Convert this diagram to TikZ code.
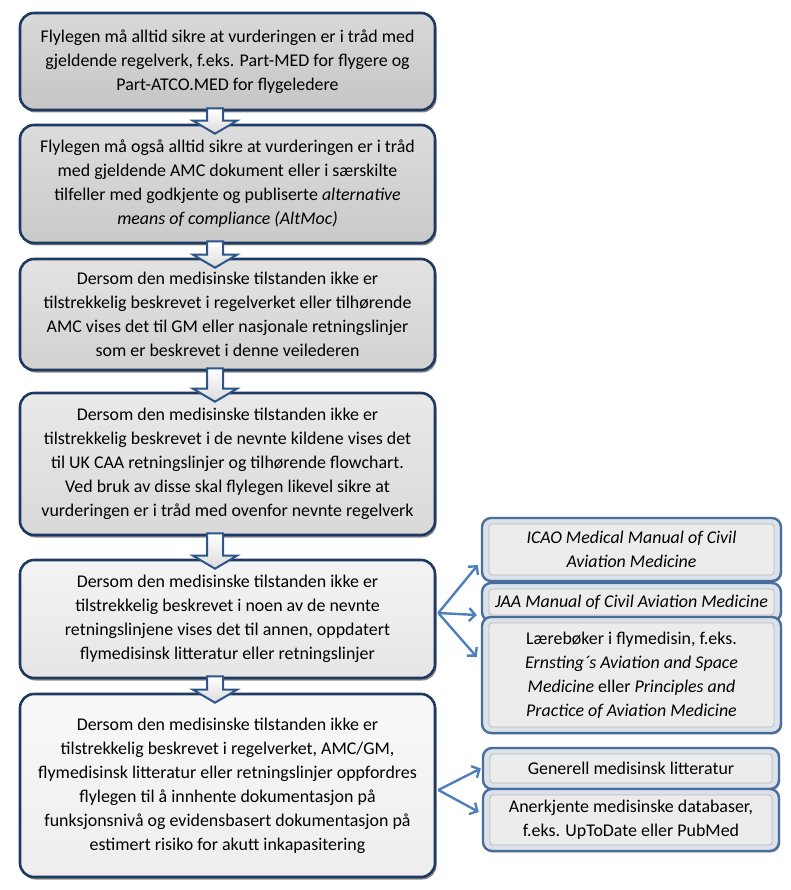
\documentclass[tikz,border=0pt]{standalone}
\usepackage{fontspec}
\setmainfont{Carlito}
\usetikzlibrary{shadows,arrows.meta,calc}
\definecolor{navy}{HTML}{1F3A60}
\definecolor{steel}{HTML}{4A6E9C}
\definecolor{conn}{HTML}{4F7FBA}
\definecolor{sidefill}{HTML}{DCE2EA}
\definecolor{innerfill}{HTML}{ECECEC}
\definecolor{arrowline}{HTML}{2E5588}
\tikzset{
  mainbox/.style={rounded corners=14pt, draw=navy, line width=2.6pt,
    minimum width=415pt, inner sep=0pt, align=center,
    font=\fontsize{17.9}{24}\selectfont,
    drop shadow={shadow xshift=1.5pt, shadow yshift=-2.5pt, opacity=0.45, fill=black}},
  sidebox/.style={rounded corners=9pt, draw=steel, line width=2.4pt,
    minimum width=299pt, inner sep=0pt, align=center, fill=sidefill,
    font=\fontsize{17.9}{24}\selectfont,
    drop shadow={shadow xshift=1pt, shadow yshift=-1.5pt, opacity=0.3, fill=black},
    path picture={\draw[draw=gray!55, line width=0.8pt, fill=innerfill, rounded corners=3pt]
      ([shift={(7pt,-6pt)}]path picture bounding box.north west) rectangle
      ([shift={(-7pt,6pt)}]path picture bounding box.south east);}},
  blockarrow/.style={draw=arrowline, line width=2pt, line join=miter,
    top color=white, bottom color=gray!28},
  connector/.style={draw=conn, line width=2.4pt, -{Straight Barb[length=6pt,width=13pt,line width=2.4pt]}}
}
\newcommand\downarrowbox[2]{%
  \draw[blockarrow]
    ([xshift=-20.5pt,yshift=3pt]#1.south) --
    ([xshift=-4.5pt,yshift=3pt]#1.south) --
    ([xshift=-4.5pt,yshift=3pt]#2.north) --
    ([xshift=9.5pt,yshift=3pt]#2.north) --
    ([xshift=-12.5pt,yshift=-10pt]#2.north) --
    ([xshift=-34.5pt,yshift=3pt]#2.north) --
    ([xshift=-20.5pt,yshift=3pt]#2.north) -- cycle;}
\begin{document}
\begin{tikzpicture}[x=1pt,y=-1pt]
\useasboundingbox (0,0) rectangle (790,890);

\node[mainbox, minimum height=97pt, top color=gray!30, bottom color=gray!45] (b1) at (227.5,61.5)
  {Flylegen må alltid sikre at vurderingen er i tråd med\\
   gjeldende regelverk, f.eks. Part-MED for flygere og\\
   Part-ATCO.MED for flygeledere};
\node[mainbox, minimum height=118pt, top color=gray!27, bottom color=gray!42] (b2) at (227.5,184)
  {Flylegen må også alltid sikre at vurderingen er i tråd\\
   med gjeldende AMC dokument eller i særskilte\\
   tilfeller med godkjente og publiserte \textit{alternative}\\
   \textit{means of compliance (AltMoc)}};
\node[mainbox, minimum height=111pt, top color=gray!22, bottom color=gray!36] (b3) at (227.5,314.5)
  {Dersom den medisinske tilstanden ikke er\\
   tilstrekkelig beskrevet i regelverket eller tilhørende\\
   AMC vises det til GM eller nasjonale retningslinjer\\
   som er beskrevet i denne veilederen};
\node[mainbox, minimum height=142pt, top color=gray!17, bottom color=gray!30] (b4) at (227.5,464)
  {Dersom den medisinske tilstanden ikke er\\
   tilstrekkelig beskrevet i de nevnte kildene vises det\\
   til UK CAA retningslinjer og tilhørende flowchart.\\
   Ved bruk av disse skal flylegen likevel sikre at\\
   vurderingen er i tråd med ovenfor nevnte regelverk};
\node[mainbox, minimum height=118pt, top color=gray!9, bottom color=gray!20] (b5) at (227.5,619)
  {Dersom den medisinske tilstanden ikke er\\
   tilstrekkelig beskrevet i noen av de nevnte\\
   retningslinjene vises det til annen, oppdatert\\
   flymedisinsk litteratur eller retningslinjer};
\node[mainbox, minimum height=183pt, top color=gray!5, bottom color=gray!14] (b6) at (227.5,785.5)
  {Dersom den medisinske tilstanden ikke er\\
   tilstrekkelig beskrevet i regelverket, AMC/GM,\\
   flymedisinsk litteratur eller retningslinjer oppfordres\\
   flylegen til å innhente dokumentasjon på\\
   funksjonsnivå og evidensbasert dokumentasjon på\\
   estimert risiko for akutt inkapasitering};

\downarrowbox{b1}{b2}
\downarrowbox{b2}{b3}
\downarrowbox{b3}{b4}
\downarrowbox{b4}{b5}
\downarrowbox{b5}{b6}

\node[sidebox, minimum height=63pt] (icao) at (631.5,549.5)
  {\textit{ICAO Medical Manual of Civil}\\ \textit{Aviation Medicine}};
\node[sidebox, minimum height=38pt] (jaa) at (631.5,602)
  {\textit{JAA Manual of Civil Aviation Medicine}};
\node[sidebox, minimum height=116pt] (laer) at (631.5,675)
  {Lærebøker i flymedisin, f.eks.\\
   \textit{Ernsting´s Aviation and Space}\\
   \textit{Medicine} eller \textit{Principles and}\\
   \textit{Practice of Aviation Medicine}};
\node[sidebox, minimum width=296pt, minimum height=41pt] (gen) at (631,768.5)
  {Generell medisinsk litteratur};
\node[sidebox, minimum width=296pt, minimum height=62pt] (ank) at (631,820)
  {Anerkjente medisinske databaser,\\ f.eks. UpToDate eller PubMed};

\coordinate (o5) at ([xshift=2pt,yshift=6pt]b5.east);
\coordinate (o6) at ([xshift=2pt,yshift=-4.5pt]b6.east);
\draw[connector] (o5) -- ([xshift=-3pt,yshift=-15.5pt]icao.west);
\draw[connector] (o5) -- ([xshift=-4pt,yshift=-13pt]jaa.west);
\draw[connector] (o5) -- ([xshift=-4pt,yshift=18pt]laer.west);
\draw[connector] (o6) -- ([xshift=-1pt]gen.west);
\draw[connector] (o6) -- ([xshift=-3pt,yshift=8pt]ank.west);
\end{tikzpicture}
\end{document}
